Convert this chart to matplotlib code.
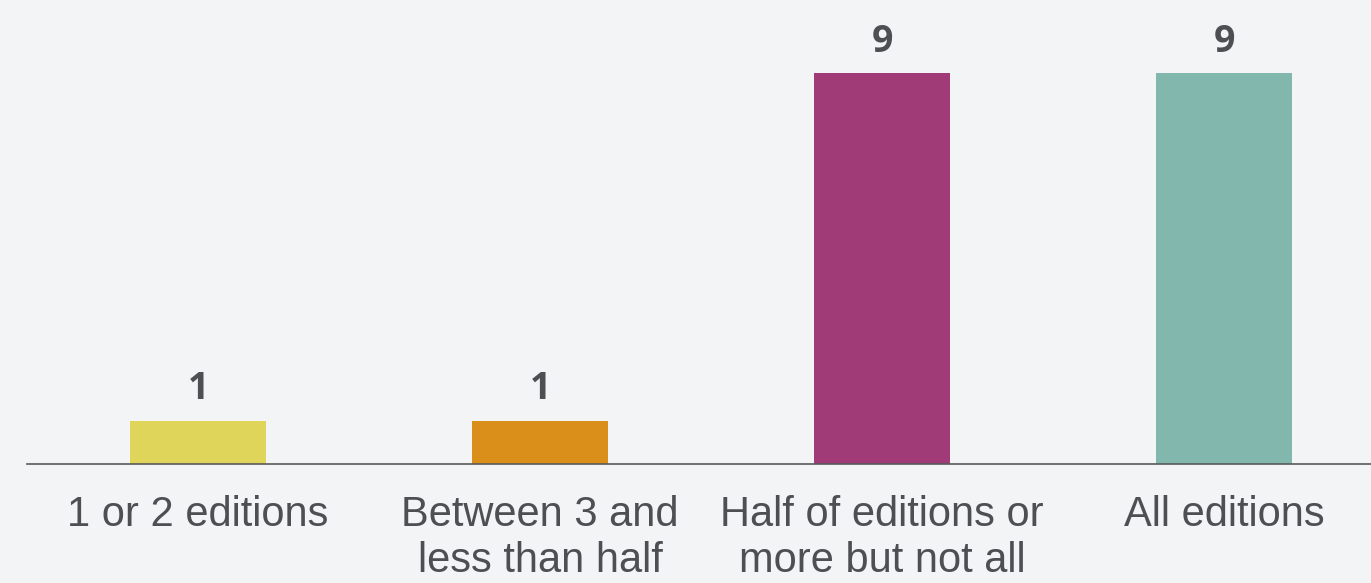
import matplotlib
matplotlib.use("Agg")
import matplotlib.pyplot as plt

categories = ["1 or 2 editions", "Between 3 and\nless than half",
              "Half of editions or\nmore but not all", "All editions"]
values = [1, 1, 9, 9]
colors = ["#dfd55a", "#db8f1b", "#a03b78", "#82b7ae"]

BG = "#f3f4f6"
TEXT = "#4d4f53"

fig = plt.figure(figsize=(13.71, 5.83), dpi=100, facecolor=BG)
ax = fig.add_axes([27 / 1371, 119 / 583, 1 - 27 / 1371, 1 - 119 / 583])
ax.set_facecolor(BG)

xs = list(range(len(categories)))
ax.bar(xs, values, width=0.4, color=colors)
ax.set_xlim(-0.5, (1371 - 198) / 342)
ax.set_ylim(0, 9 * 464 / 391)

for x, v in zip(xs, values):
    ax.annotate(str(v), (x, v), xytext=(0, 9), textcoords="offset points",
                ha="center", va="bottom", fontsize=27, fontweight="bold",
                family="Open Sans", color=TEXT)

ax.set_xticks(xs)
ax.set_xticklabels(categories, fontsize=30, family="Liberation Sans",
                   color=TEXT, linespacing=1.22)
ax.tick_params(axis="x", length=0, pad=22)
ax.set_yticks([])
for s in ["top", "right", "left"]:
    ax.spines[s].set_visible(False)
ax.spines["bottom"].set_color("#5a5a5a")
ax.spines["bottom"].set_linewidth(1.2)

fig.savefig("out.png", dpi=100, facecolor=BG)
